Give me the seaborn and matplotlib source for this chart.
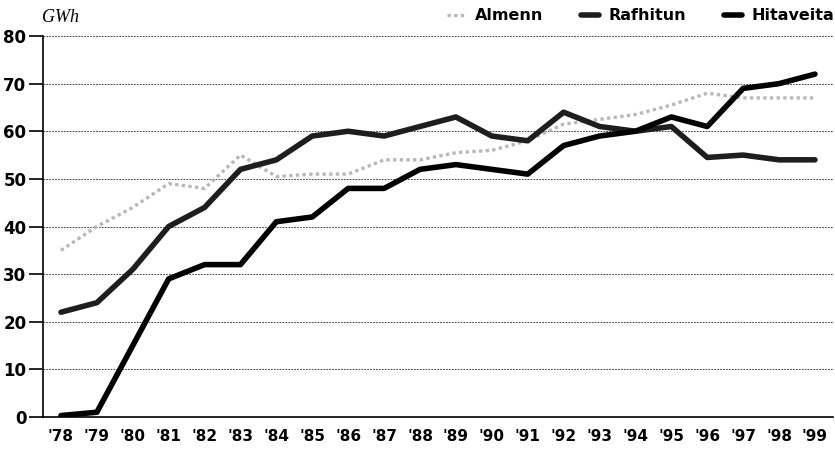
import pandas as pd
import numpy as np
import matplotlib
matplotlib.use("Agg")
import matplotlib.pyplot as plt
import seaborn as sns

# data (GWh)
years = ["'78", "'79", "'80", "'81", "'82", "'83", "'84", "'85", "'86", "'87", "'88",
         "'89", "'90", "'91", "'92", "'93", "'94", "'95", "'96", "'97", "'98", "'99"]
almenn = [35, 40, 44, 49, 48, 55, 50.5, 51, 51, 54, 54,
          55.5, 56, 58, 61.5, 62.5, 63.5, 65.5, 68, 67, 67, 67]
rafhitun = [22, 24, 31, 40, 44, 52, 54, 59, 60, 59, 61,
            63, 59, 58, 64, 61, 60, 61, 54.5, 55, 54, 54]
hitaveita = [0.3, 1, 15, 29, 32, 32, 41, 42, 48, 48, 52,
             53, 52, 51, 57, 59, 60, 63, 61, 69, 70, 72]
series_names = ["Almenn", "Rafhitun", "Hitaveita"]

df = pd.DataFrame({"year": years * 3,
                   "GWh": almenn + rafhitun + hitaveita,
                   "series": np.repeat(series_names, len(years))})

sns.set_style("white")
plt.rcParams["font.family"] = ["DejaVu Sans"]
plt.rcParams["text.color"] = "black"
plt.rcParams["xtick.color"] = "black"
plt.rcParams["ytick.color"] = "black"

fig = plt.figure(figsize=(8.35, 4.53), dpi=100)
ax = fig.add_axes([0.0515, 0.0795, 0.946, 0.841])

styles = {"Almenn": dict(color="#b8b8b8", lw=2.4, ls=(0, (1, 1))),
          "Rafhitun": dict(color="#1e1e1e", lw=4.0, ls="-"),
          "Hitaveita": dict(color="#000000", lw=4.0, ls="-")}
for name in series_names:
    st = styles[name]
    sns.lineplot(data=df[df.series == name], x="year", y="GWh", ax=ax,
                 color=st["color"], linewidth=st["lw"], linestyle=st["ls"],
                 label=name, sort=False, zorder=3)

ax.set_xlim(-0.5, len(years) - 0.5)
ax.set_ylim(0, 80)
ax.set_yticks(range(0, 81, 10))
ax.yaxis.grid(True, color="#222222", linestyle=(0, (2, 1.5)), linewidth=0.6)
ax.xaxis.grid(False)
for s in ["top", "right"]:
    ax.spines[s].set_visible(False)
for s in ["left", "bottom"]:
    ax.spines[s].set_linewidth(1.2)
    ax.spines[s].set_color("black")

ax.set_xticks(range(len(years)))
ax.set_xticklabels(years, fontsize=11, fontweight="bold")
ax.set_xticks(np.arange(-0.5, len(years), 1.0), minor=True)
ax.tick_params(axis="x", which="major", length=0, pad=9)
ax.tick_params(axis="x", which="minor", length=7, width=1.2, direction="out", color="black")
ax.tick_params(axis="y", length=10, width=1.2, direction="out", color="black",
               labelsize=12, pad=2, left=True)
for t in ax.get_yticklabels():
    t.set_fontweight("bold")
ax.set_xlabel("")
ax.set_ylabel("")

fig.text(0.073, 0.962, "GWh", fontsize=13, style="italic",
         family=["Liberation Serif", "DejaVu Serif"], ha="center", va="center")

leg = ax.legend(loc="center right", bbox_to_anchor=(1.02, 1.053), ncol=3, frameon=False,
                handlelength=1.1, columnspacing=2.4, handletextpad=0.6,
                prop={"weight": "bold", "size": 11.5})

fig.savefig("out.png", dpi=100, facecolor="white")
